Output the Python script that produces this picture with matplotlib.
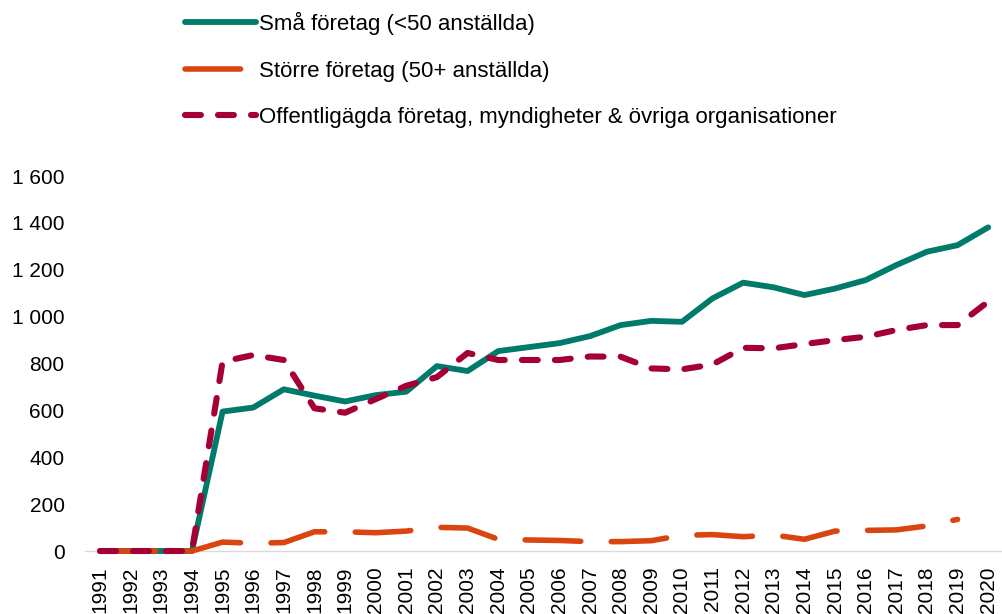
import matplotlib
matplotlib.use("Agg")
import matplotlib.pyplot as plt
from matplotlib.ticker import FuncFormatter, FixedLocator
import numpy as np

years = [str(y) for y in range(1991, 2021)]
sma = [0, 0, 0, 0, 595, 612, 690, 663, 638, 665, 680, 789, 768, 853, 870, 887,
       917, 964, 982, 978, 1078, 1145, 1125, 1092, 1120, 1156, 1220, 1277, 1305, 1381]
storre = [0, 0, 0, 0, 38, 33, 36, 82, 82, 78, 85, 101, 98, 50, 47, 45,
          40, 40, 44, 67, 70, 61, 68, 50, 85, 88, 90, 107, 135, np.nan]
offentlig = [0, 0, 0, 0, 808, 836, 815, 609, 590, 648, 705, 742, 845, 815, 815, 815,
             830, 829, 779, 775, 796, 867, 865, 883, 900, 914, 943, 964, 964, 1064]
labels = ["Små företag (<50 anställda)", "Större företag (50+ anställda)",
          "Offentligägda företag, myndigheter & övriga organisationer"]
yticks = [0, 200, 400, 600, 800, 1000, 1200, 1400, 1600]

plt.rcParams['font.family'] = ['Liberation Sans', 'DejaVu Sans']

fig = plt.figure(figsize=(10.03, 6.14), dpi=100)
ax = fig.add_axes([0.0845, 0.1026, 0.916, 0.6107])

x = np.arange(len(years))
green = "#007A6A"
orange = "#D9440F"
crimson = "#A50036"

l1, = ax.plot(x, sma, color=green, lw=4.2, solid_capstyle='round', clip_on=False, zorder=3)
l2, = ax.plot(x, storre, color=orange, lw=4.0, dashes=(10, 5.5), dash_capstyle='round',
              clip_on=False, zorder=4)
l3, = ax.plot(x, offentlig, color=crimson, lw=4.4, dashes=(2.6, 2.8), dash_capstyle='round',
              clip_on=False, zorder=5)

ax.set_xlim(-0.5, len(years) - 0.5)
ax.set_ylim(0, 1600)
ax.yaxis.set_major_locator(FixedLocator(yticks))
ax.yaxis.set_major_formatter(FuncFormatter(lambda v, p: f"{int(v):,}".replace(",", " ")))
ax.set_xticks(x)
ax.set_xticklabels(years, rotation=90, va='top', ha='center')
ax.tick_params(axis='y', length=0, pad=14.5, labelsize=15, labelcolor='black')
ax.tick_params(axis='x', length=0, pad=11, labelsize=15, labelcolor='black')
for s in ['top', 'right', 'left']:
    ax.spines[s].set_visible(False)
ax.spines['bottom'].set_color('#d9d9d9')
ax.spines['bottom'].set_linewidth(1.0)
ax.spines['bottom'].set_zorder(1)

leg = fig.legend([l1, l2, l3], labels, loc='upper left',
                 bbox_to_anchor=(185 / 1003, 1 - 12 / 614), frameon=False,
                 fontsize=16, handlelength=3.2, handletextpad=0.12,
                 labelspacing=1.15, borderpad=0, borderaxespad=0)

fig.savefig("out.png", dpi=100)
